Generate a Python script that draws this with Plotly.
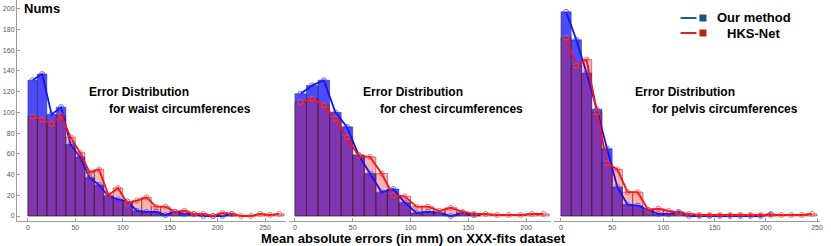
import plotly.graph_objects as go

W, H = 831, 246

# bin centres (10 mm bins)
bin_centers = [5, 15, 25, 35, 45, 55, 65, 75, 85, 95, 105, 115, 125, 135, 145,
               155, 165, 175, 185, 195, 205, 215, 225, 235, 245, 255, 265]

# waist
waist_ours = [131, 137, 98, 105, 69, 57, 37, 30, 19, 16, 14, 5, 4, 4, 1, 4, 2, 2, 0, 0, 0, 2]
waist_hks = [96, 93, 89, 97, 76, 61, 42, 45, 20, 27, 12, 15, 18, 9, 9, 4, 5, 2, 2, 0, 3, 2, 0, 0, 2, 1, 2]
# chest
chest_ours = [118, 126, 131, 100, 86, 59, 41, 23, 26, 13, 3, 4, 3, 0, 3, 1]
chest_hks = [110, 113, 107, 94, 76, 58, 57, 41, 20, 19, 9, 9, 5, 8, 4, 2, 2, 1, 1, 1, 2, 2]
# pelvis
pelvis_ours = [197, 170, 138, 103, 65, 28, 11, 10, 6, 2, 2, 4, 0, 0, 0, 0, 0, 0, 0, 0, 2]
pelvis_hks = [172, 145, 151, 100, 51, 45, 23, 23, 6, 7, 5, 3, 2, 1, 1, 1, 1, 1, 1, 1, 1, 1, 1, 1, 2]

panel_titles = [("Error Distribution", "for waist circumferences"),
                ("Error Distribution", "for chest circumferences"),
                ("Error Distribution", "for pelvis circumferences")]
y_ticks = [0, 20, 40, 60, 80, 100, 120, 140, 160, 180, 200]
x_ticks = [0, 50, 100, 150, 200, 250]
legend_names = ["Our method", "HKS-Net"]

panels = [(waist_ours, waist_hks), (chest_ours, chest_hks), (pelvis_ours, pelvis_hks)]

BLUE_BAR = "rgba(0,0,255,0.70)"
RED_BAR = "rgba(255,0,0,0.30)"
EDGE = "rgba(40,40,40,0.55)"

fig = go.Figure()
for i, (ours, hks) in enumerate(panels):
    xa = "x" if i == 0 else f"x{i+1}"
    ya = "y" if i == 0 else f"y{i+1}"
    fig.add_trace(go.Bar(x=bin_centers[:len(ours)], y=ours, width=10, xaxis=xa, yaxis=ya,
                         marker=dict(color=BLUE_BAR, line=dict(color=EDGE, width=0.8)),
                         showlegend=False))
    fig.add_trace(go.Bar(x=bin_centers[:len(hks)], y=hks, width=10, xaxis=xa, yaxis=ya,
                         marker=dict(color=RED_BAR, line=dict(color=EDGE, width=0.8)),
                         showlegend=False))
    fig.add_trace(go.Scatter(x=bin_centers[:len(ours)], y=ours, xaxis=xa, yaxis=ya,
                             mode="lines+markers",
                             line=dict(color="#1010ff", width=1.8),
                             marker=dict(symbol="circle-open", size=5,
                                         color="rgba(60,60,255,0.75)", line=dict(width=1)),
                             showlegend=False))
    fig.add_trace(go.Scatter(x=bin_centers[:len(hks)], y=hks, xaxis=xa, yaxis=ya,
                             mode="lines+markers",
                             line=dict(color="#ff1010", width=1.9),
                             marker=dict(symbol="circle-open", size=5,
                                         color="rgba(255,70,70,0.75)", line=dict(width=1)),
                             showlegend=False))

def px(x):
    return x / W

def py(y):
    return 1 - y / H

y_bottom = 220.5
y_range = [(216 - y_bottom) / 1.0365, 216 / 1.0365]
ydom = [py(y_bottom), 1]

# (left px, right px, px position of x=0, px per unit)
geo = [(17, 287, 28, 0.952), (290, 553, 296, 1.16), (556, 823, 563, 1.028)]

axis_common = dict(showgrid=False, zeroline=False, showline=True, linecolor="#9a9a9a",
                   linewidth=1, ticks="inside", ticklen=3, tickcolor="#9a9a9a",
                   tickfont=dict(family="Liberation Sans, Arial", size=7, color="#555555"))

layout = dict(width=W, height=H, margin=dict(l=0, r=0, t=0, b=0),
              paper_bgcolor="white", plot_bgcolor="rgba(0,0,0,0)",
              barmode="overlay", showlegend=False)

for i, (l, r, z, s) in enumerate(geo):
    key = "xaxis" if i == 0 else f"xaxis{i+1}"
    yk = "yaxis" if i == 0 else f"yaxis{i+1}"
    layout[key] = dict(domain=[px(l), px(r)], range=[(l - z) / s, (r - z) / s],
                       anchor="y" if i == 0 else f"y{i+1}", tickvals=x_ticks, **axis_common)
    if i == 0:
        layout[yk] = dict(domain=ydom, range=y_range, anchor="x", tickvals=y_ticks, **axis_common)
    else:
        layout[yk] = dict(domain=ydom, range=y_range, anchor=f"x{i+1}", visible=False)

fig.update_layout(**layout)

annots = []
bold = "Liberation Sans, Arial"
annots.append(dict(x=px(22), y=py(8.5), xref="paper", yref="paper", text="<b>Nums</b>",
                   showarrow=False, xanchor="left", yanchor="middle",
                   font=dict(family=bold, size=13, color="black")))
annots.append(dict(x=px(415), y=py(238), xref="paper", yref="paper",
                   text="<b>Mean absolute errors (in mm) on XXX-fits dataset</b>",
                   showarrow=False, xanchor="center", yanchor="middle",
                   font=dict(family=bold, size=13, color="black")))
title_pos = [(87, 107), (362, 379), (635, 652)]
for (x1, x2), (t1, t2) in zip(title_pos, panel_titles):
    annots.append(dict(x=px(x1), y=py(92.5), xref="paper", yref="paper", text=f"<b>{t1}</b>",
                       showarrow=False, xanchor="left", yanchor="middle",
                       font=dict(family=bold, size=12, color="black")))
    annots.append(dict(x=px(x2), y=py(109), xref="paper", yref="paper", text=f"<b>{t2}</b>",
                       showarrow=False, xanchor="left", yanchor="middle",
                       font=dict(family=bold, size=12, color="black")))

# legend (drawn manually)
leg = [(18, "#1f5aa0", "#1a4f8a", legend_names[0], 718),
       (33, "#dd2222", "#c0200f", legend_names[1], 728)]
shapes = []
for yc, lc, sc, name, tx in leg:
    shapes.append(dict(type="line", xref="paper", yref="paper", x0=px(683), x1=px(699),
                       y0=py(yc), y1=py(yc), line=dict(color=lc, width=2)))
    shapes.append(dict(type="rect", xref="paper", yref="paper", x0=px(702), x1=px(709),
                       y0=py(yc - 3.5), y1=py(yc + 3.5), fillcolor=sc, line=dict(width=0)))
    annots.append(dict(x=px(tx), y=py(yc), xref="paper", yref="paper", text=f"<b>{name}</b>",
                       showarrow=False, xanchor="left", yanchor="middle",
                       font=dict(family=bold, size=13, color="black")))

fig.update_layout(annotations=annots, shapes=shapes)
fig.write_html("out.html", config={"displayModeBar": False},
               post_script="document.body.style.margin='0';document.body.style.overflow='hidden';")
